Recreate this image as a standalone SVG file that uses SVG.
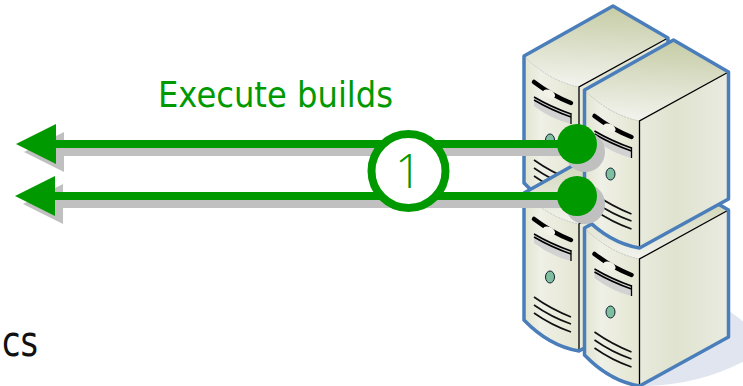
<svg xmlns="http://www.w3.org/2000/svg" width="743" height="386" viewBox="0 0 743 386">
<style>
.t{font-family:"DejaVu Sans","Liberation Sans",sans-serif}
.n{font-family:"Open Sans","Noto Sans",sans-serif}
.g{fill:#009900}.s{fill:#c0c0c0}
.o{fill:none;stroke:#4a7ebb;stroke-width:3.500;stroke-linejoin:round}
.k{fill:none;stroke:#000;stroke-width:1.300}
.v{fill:none;stroke:#111;stroke-width:1.600}
</style>
<defs>
<linearGradient id="top" x1="0.55" y1="0" x2="0.45" y2="1"><stop offset="0" stop-color="#c6cca6"/><stop offset="1" stop-color="#f2f3ed"/></linearGradient>
<linearGradient id="side" x1="0" y1="0" x2="1" y2="0"><stop offset="0" stop-color="#e8eadd"/><stop offset=".4" stop-color="#e0e3cf"/><stop offset="1" stop-color="#e9ebe0"/></linearGradient>
<linearGradient id="front" x1="0" y1="0" x2="1" y2="0"><stop offset="0" stop-color="#e2e4d0"/><stop offset=".3" stop-color="#eff0e6"/><stop offset="1" stop-color="#e4e6d2"/></linearGradient>
<g id="server">
<path d="M-55,-31L34,-81L89,-49L0,0Q-30,-6 -55,-31Z" fill="url(#top)"/>
<path d="M-55,-31Q-30,-6 0,0L0,127Q-30,122 -55,96Z" fill="url(#front)"/>
<path d="M0,0L89,-49L89,78L0,127Z" fill="url(#side)"/>
<path d="M-55,-31Q-30,-6 0,0" fill="none" stroke="#bbb" stroke-width=".8" stroke-dasharray="2 1"/>
<path class="k" d="M89,-49L0,0L0,127"/>
<path d="M-45,-5Q-28,8 -8,16" fill="none" stroke="#000" stroke-width="4.500" stroke-linecap="round"/>
<ellipse cx="-30" cy="7" rx="6.500" ry="4" fill="#f3f2e8" transform="rotate(25 -30 7)"/>
<path d="M-45,9Q-28,19 -8,26L-8,37Q-28,32 -45,19Z" fill="#d2d2d2"/>
<path d="M-45,10Q-28,20 -8,27M-45,13Q-28,23 -8,30" fill="none" stroke="#000" stroke-width="1.500"/>
<path d="M-8,26L-8,37" stroke="#000" stroke-width="1.300"/>
<ellipse cx="-29" cy="53" rx="4.500" ry="6" fill="#7fbf9f" stroke="#123" stroke-width="1"/>
<path class="v" d="M-45,73Q-28,85 -8,93M-45,81Q-28,93 -8,100M-45,89Q-28,101 -8,108"/>
<path class="o" d="M-55,-31L34,-81L89,-49L89,78L0,127Q-30,122 -55,96Z"/>
</g>
<path id="arrow" d="M0,0L40,-20L40,-4L561,-4L561,4L40,4L40,20Z"/>
</defs>
<path id="floor-shadow" d="M729,311Q750,325 760,340L760,352Q710,384 647,386L640,386L700,320Z" fill="#e0e5f0"/>
<g id="server-top-left"><use href="#server" x="579" y="87"/></g>
<g id="server-bottom-left"><use href="#server" x="579" y="224"/></g>
<g id="server-bottom-right"><use href="#server" x="639.500" y="259"/></g>
<g id="server-top-right"><use href="#server" x="639.500" y="121"/></g>
<g id="connectors">
<use href="#arrow" x="24" y="152" class="s"/>
<circle cx="585" cy="152" r="20" class="s"/>
<use href="#arrow" x="23" y="204" class="s"/>
<circle cx="585" cy="204" r="20" class="s"/>
<use href="#arrow" x="16" y="144" class="g"/>
<circle cx="577" cy="144" r="20" class="g"/>
<use href="#arrow" x="15" y="196" class="g"/>
<circle cx="577" cy="196" r="20" class="g"/>
</g>
<g id="badge">
<circle cx="408.500" cy="171" r="37" fill="#fff" stroke="#009900" stroke-width="8"/>
<text x="408.500" y="188" text-anchor="middle" class="n" font-size="47" font-weight="300" fill="#009900">1</text>
</g>
<text id="label" x="158" y="107" class="t" font-size="36" fill="#009900" textLength="235" lengthAdjust="spacingAndGlyphs">Execute builds</text>
<text id="cut" x="2" y="356" class="t" font-size="42" fill="#111" textLength="36" lengthAdjust="spacingAndGlyphs">cs</text>
</svg>
